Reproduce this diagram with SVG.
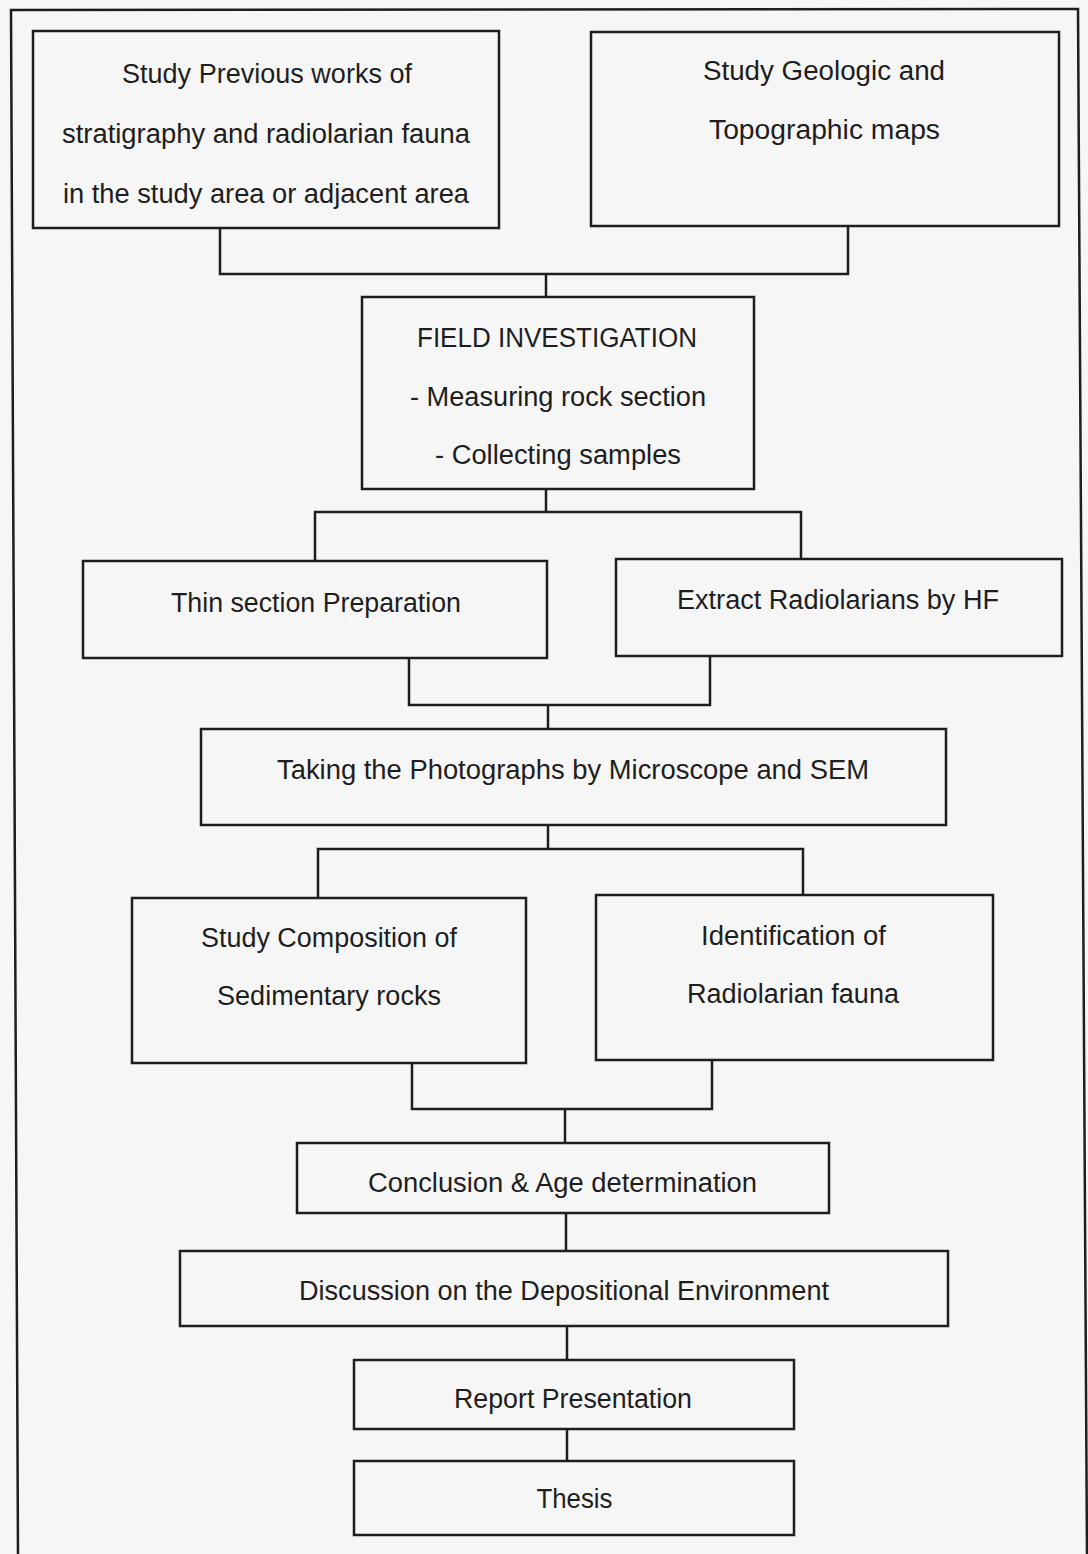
<svg xmlns="http://www.w3.org/2000/svg" width="1088" height="1554" viewBox="0 0 1088 1554">
<style>
.bg{fill:#f6f6f6}
.frame{fill:none;stroke:#1e1e1e;stroke-width:2.5}
.box{fill:none;stroke:#1e1e1e;stroke-width:2.5}
.conn{fill:none;stroke:#1e1e1e;stroke-width:2.5}
text{font-family:"Liberation Sans",Arial,sans-serif;font-size:27px;fill:#1e1e1e;text-anchor:middle}
</style>
<rect class="bg" x="0" y="0" width="1088" height="1554"/>
<polyline class="frame" points="18,1556 11,10 1078,9 1087,1556"/>
<g id="connectors">
<polyline class="conn" points="220,228 220,274 848,274 848,226"/>
<line class="conn" x1="546" y1="274" x2="546" y2="297"/>
<line class="conn" x1="546" y1="489" x2="546" y2="512"/>
<polyline class="conn" points="315,561 315,512 801,512 801,559"/>
<polyline class="conn" points="409,658 409,705 710,705 710,656"/>
<line class="conn" x1="548" y1="705" x2="548" y2="729"/>
<line class="conn" x1="548" y1="825" x2="548" y2="849"/>
<polyline class="conn" points="318,898 318,849 803,849 803,895"/>
<polyline class="conn" points="412,1063 412,1109 712,1109 712,1060"/>
<line class="conn" x1="565" y1="1109" x2="565" y2="1143"/>
<line class="conn" x1="566" y1="1213" x2="566" y2="1251"/>
<line class="conn" x1="567" y1="1326" x2="567" y2="1360"/>
<line class="conn" x1="567" y1="1429" x2="567" y2="1461"/>
</g>
<g id="previous-works">
<rect class="box" x="33" y="31" width="466" height="197"/>
<text x="267" y="83" textLength="290" lengthAdjust="spacingAndGlyphs">Study Previous works of</text>
<text x="266" y="143" textLength="408" lengthAdjust="spacingAndGlyphs">stratigraphy and radiolarian fauna</text>
<text x="266" y="203" textLength="406" lengthAdjust="spacingAndGlyphs">in the study area or adjacent area</text>
</g>
<g id="geologic-maps">
<rect class="box" x="591" y="32" width="468" height="194"/>
<text x="824" y="80" textLength="242" lengthAdjust="spacingAndGlyphs">Study Geologic and</text>
<text x="824.5" y="139" textLength="231" lengthAdjust="spacingAndGlyphs">Topographic maps</text>
</g>
<g id="field-investigation">
<rect class="box" x="362" y="297" width="392" height="192"/>
<text x="557" y="347" textLength="280" lengthAdjust="spacingAndGlyphs">FIELD INVESTIGATION</text>
<text x="558" y="406" textLength="296" lengthAdjust="spacingAndGlyphs">- Measuring rock section</text>
<text x="558" y="464" textLength="246" lengthAdjust="spacingAndGlyphs">- Collecting samples</text>
</g>
<g id="thin-section">
<rect class="box" x="83" y="561" width="464" height="97"/>
<text x="316" y="612" textLength="290" lengthAdjust="spacingAndGlyphs">Thin section Preparation</text>
</g>
<g id="extract-radiolarians">
<rect class="box" x="616" y="559" width="446" height="97"/>
<text x="838" y="609" textLength="322" lengthAdjust="spacingAndGlyphs">Extract Radiolarians by HF</text>
</g>
<g id="photographs">
<rect class="box" x="201" y="729" width="745" height="96"/>
<text x="573" y="779" textLength="592" lengthAdjust="spacingAndGlyphs">Taking the Photographs by Microscope and SEM</text>
</g>
<g id="composition">
<rect class="box" x="132" y="898" width="394" height="165"/>
<text x="329" y="947" textLength="256" lengthAdjust="spacingAndGlyphs">Study Composition of</text>
<text x="329" y="1005" textLength="224" lengthAdjust="spacingAndGlyphs">Sedimentary rocks</text>
</g>
<g id="identification">
<rect class="box" x="596" y="895" width="397" height="165"/>
<text x="793.5" y="945" textLength="185" lengthAdjust="spacingAndGlyphs">Identification of</text>
<text x="793" y="1003" textLength="212" lengthAdjust="spacingAndGlyphs">Radiolarian fauna</text>
</g>
<g id="conclusion">
<rect class="box" x="297" y="1143" width="532" height="70"/>
<text x="562.5" y="1192" textLength="389" lengthAdjust="spacingAndGlyphs">Conclusion &amp; Age determination</text>
</g>
<g id="discussion">
<rect class="box" x="180" y="1251" width="768" height="75"/>
<text x="564" y="1300" textLength="530" lengthAdjust="spacingAndGlyphs">Discussion on the Depositional Environment</text>
</g>
<g id="report">
<rect class="box" x="354" y="1360" width="440" height="69"/>
<text x="573" y="1408" textLength="238" lengthAdjust="spacingAndGlyphs">Report Presentation</text>
</g>
<g id="thesis">
<rect class="box" x="354" y="1461" width="440" height="74"/>
<text x="574.5" y="1508" textLength="76" lengthAdjust="spacingAndGlyphs">Thesis</text>
</g>
</svg>
